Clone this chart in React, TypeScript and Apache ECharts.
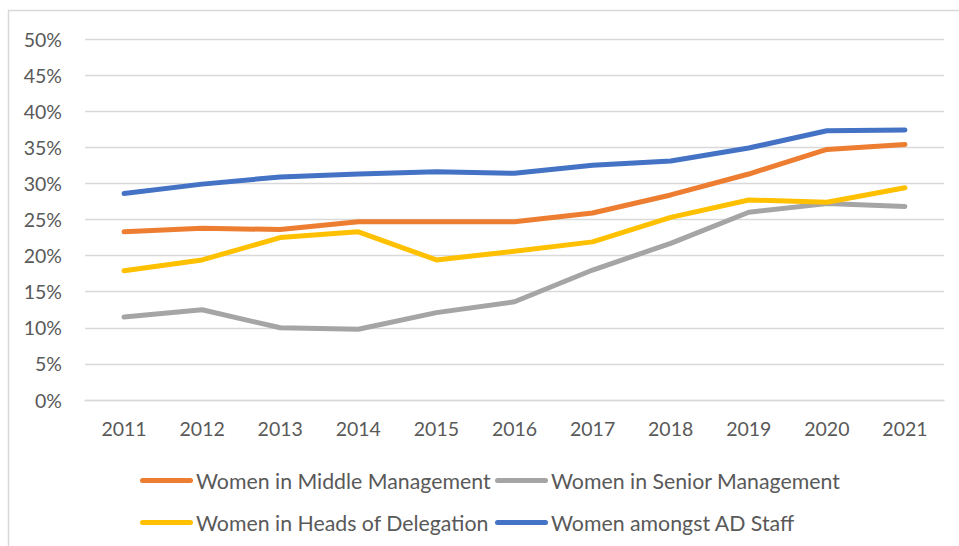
import React, { useEffect, useRef } from "react";
import * as echarts from "echarts";

const years = ["2011", "2012", "2013", "2014", "2015", "2016", "2017", "2018", "2019", "2020", "2021"];
const middleManagement = [23.3, 23.8, 23.6, 24.7, 24.7, 24.7, 25.9, 28.4, 31.3, 34.7, 35.4];
const seniorManagement = [11.5, 12.5, 10.0, 9.8, 12.1, 13.6, 18.0, 21.7, 26.0, 27.2, 26.8];
const headsOfDelegation = [17.9, 19.4, 22.5, 23.3, 19.4, 20.6, 21.9, 25.3, 27.7, 27.4, 29.4];
const adStaff = [28.6, 29.9, 30.9, 31.3, 31.6, 31.4, 32.5, 33.1, 34.9, 37.3, 37.4];

const seriesNames = [
  "Women in Middle Management",
  "Women in Senior Management",
  "Women in Heads of Delegation",
  "Women amongst AD Staff",
];
const seriesData = [middleManagement, seniorManagement, headsOfDelegation, adStaff];
const colors = ["#ED7D31", "#A5A5A5", "#FFC000", "#4472C4"];

const FONT = "Lato, 'Noto Sans', sans-serif";
const TEXT_COLOR = "#595959";
const LEGEND_ICON = "path://M2.5,0 L50.5,0 A2.5,2.5 0 0 1 50.5,5 L2.5,5 A2.5,2.5 0 0 1 2.5,0 Z";

export default function App() {
  const ref = useRef<HTMLDivElement>(null);
  useEffect(() => {
    if (!ref.current) return;
    const chart = echarts.init(ref.current, undefined, { renderer: "svg" });
    const legendPos = [
      { left: 140, top: 470 },
      { left: 495, top: 470 },
      { left: 140, top: 512 },
      { left: 495, top: 512 },
    ];
    chart.setOption({
      animation: false,
      backgroundColor: "#ffffff",
      textStyle: { fontFamily: FONT },
      grid: { left: 85, right: 15, top: 39, bottom: 146, containLabel: false },
      graphic: [
        {
          type: "rect",
          shape: { x: 8.5, y: 10.5, width: 1000, height: 600 },
          style: { fill: "none", stroke: "#D9D9D9", lineWidth: 1.5 },
          silent: true,
        },
      ],
      legend: seriesNames.map((n, i) => ({
        data: [{ name: n, icon: LEGEND_ICON, itemStyle: { color: colors[i] } }],
        left: legendPos[i].left,
        top: legendPos[i].top,
        padding: 0,
        itemWidth: 53,
        itemHeight: 5,
        itemGap: 0,
        textStyle: {
          fontFamily: FONT,
          fontSize: 21.3,
          color: TEXT_COLOR,
          lineHeight: 20,
          padding: [0, 0, 0, -2],
        },
      })),
      xAxis: {
        type: "category",
        data: years,
        boundaryGap: true,
        axisLine: { show: true, lineStyle: { color: "#D9D9D9", width: 1.3 } },
        axisTick: { show: false },
        axisLabel: { color: TEXT_COLOR, fontSize: 19.5, fontFamily: FONT, margin: 18 },
      },
      yAxis: {
        type: "value",
        min: 0,
        max: 50,
        interval: 5,
        axisLine: { show: false },
        axisTick: { show: false },
        splitLine: { lineStyle: { color: "#D9D9D9", width: 1.3 } },
        axisLabel: { color: TEXT_COLOR, fontSize: 19.5, fontFamily: FONT, margin: 23, formatter: "{value}%" },
      },
      series: seriesNames.map((n, i) => ({
        name: n,
        type: "line",
        data: seriesData[i],
        symbol: "none",
        showSymbol: false,
        color: colors[i],
        lineStyle: { color: colors[i], width: 5, cap: "round", join: "round" },
      })),
    });
    return () => chart.dispose();
  }, []);
  return (
    <div
      ref={ref}
      style={{ position: "fixed", left: 0, top: 0, width: 959, height: 546 }}
    />
  );
}
